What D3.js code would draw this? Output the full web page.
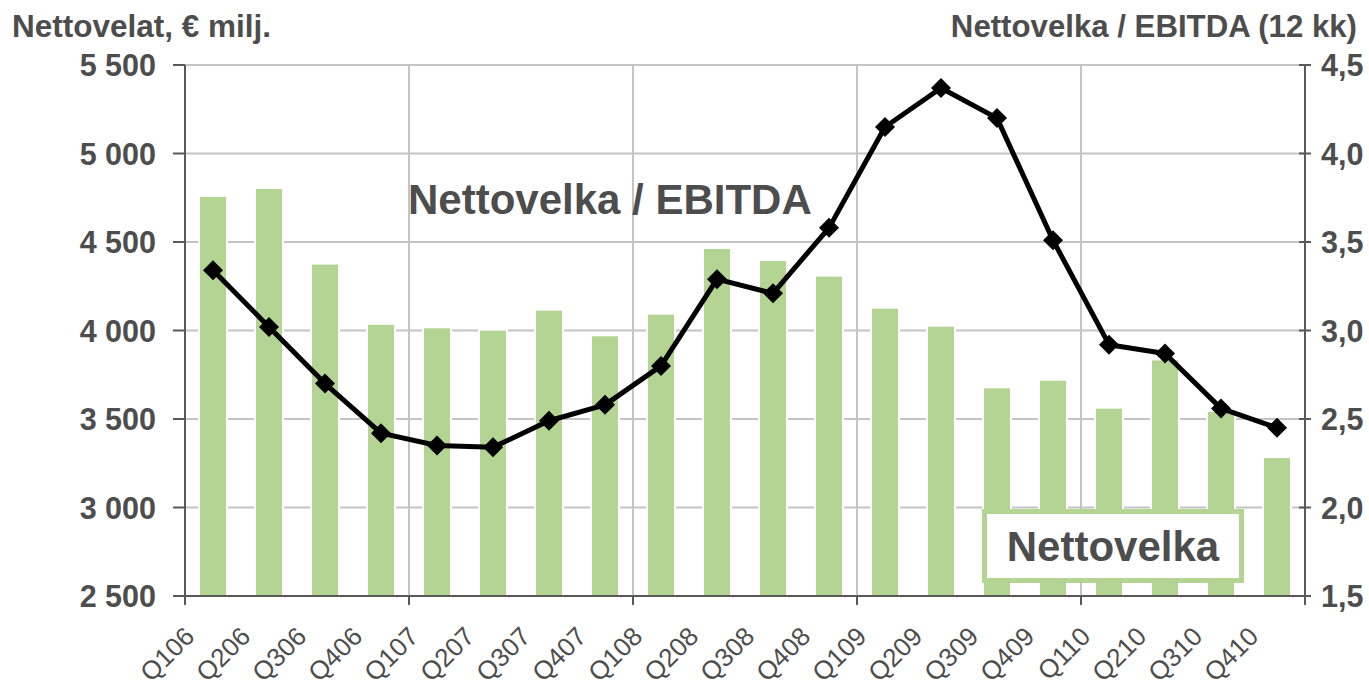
<!DOCTYPE html>
<html>
<head>
<meta charset="utf-8">
<script src="https://cdn.jsdelivr.net/npm/d3@7"></script>
<style>
  body { margin: 0; background: #fff; }
  text { font-family: "Liberation Sans", Arial, sans-serif; fill: #4d4d4d; }
</style>
</head>
<body>
<div id="chart"></div>
<script>
// data
var quarters = ['Q106','Q206','Q306','Q406','Q107','Q207','Q307','Q407','Q108','Q208',
                'Q308','Q408','Q109','Q209','Q309','Q409','Q110','Q210','Q310','Q410'];
var nettovelka = [4760, 4805, 4378, 4038, 4018, 4005, 4118, 3973, 4095, 4466,
                  4398, 4310, 4129, 4027, 3679, 3722, 3564, 3837, 3545, 3285];
var ratio = [3.34, 3.02, 2.70, 2.42, 2.35, 2.34, 2.49, 2.58, 2.80, 3.29,
             3.21, 3.58, 4.15, 4.37, 4.20, 3.51, 2.92, 2.87, 2.56, 2.45];
var leftTicks = [2500, 3000, 3500, 4000, 4500, 5000, 5500];
var rightTicks = [1.5, 2.0, 2.5, 3.0, 3.5, 4.0, 4.5];

var W = 1369, H = 689;
var m = {left: 185, right: 64, top: 65, bottom: 93};
var pw = W - m.left - m.right, ph = H - m.top - m.bottom;

var svg = d3.select('#chart').append('svg')
  .attr('width', W).attr('height', H);

var x = d3.scaleBand().domain(quarters).range([m.left, m.left + pw]);
var yL = d3.scaleLinear().domain([2500, 5500]).range([m.top + ph, m.top]);
var yR = d3.scaleLinear().domain([1.5, 4.5]).range([m.top + ph, m.top]);

// gridlines
svg.append('g')
  .selectAll('line').data(leftTicks.slice(1)).enter().append('line')
  .attr('x1', m.left).attr('x2', m.left + pw)
  .attr('y1', function(d){ return yL(d); }).attr('y2', function(d){ return yL(d); })
  .attr('stroke', '#c4c4c4').attr('stroke-width', 2);

var groups = quarters.filter(function(d, i){ return i % 4 === 0 && i > 0; });
svg.append('g')
  .selectAll('line').data(groups).enter().append('line')
  .attr('x1', function(d){ return x(d); }).attr('x2', function(d){ return x(d); })
  .attr('y1', m.top).attr('y2', m.top + ph)
  .attr('stroke', '#c4c4c4').attr('stroke-width', 2);

// bars
svg.append('g')
  .selectAll('rect').data(nettovelka).enter().append('rect')
  .attr('x', function(d, i){ return x(quarters[i]) + x.bandwidth() / 2 - 14; })
  .attr('width', 28)
  .attr('y', function(d){ return yL(d); })
  .attr('height', function(d){ return yL(2500) - yL(d); })
  .attr('fill', '#b3d492')
  .attr('stroke', '#fff').attr('stroke-width', 2);

// axes
var axisCol = '#595959';
svg.append('line')
  .attr('x1', m.left).attr('x2', m.left).attr('y1', m.top).attr('y2', m.top + ph + 9)
  .attr('stroke', axisCol).attr('stroke-width', 2);
svg.append('line')
  .attr('x1', m.left + pw).attr('x2', m.left + pw).attr('y1', m.top).attr('y2', m.top + ph + 9)
  .attr('stroke', axisCol).attr('stroke-width', 2);
svg.append('line')
  .attr('x1', m.left - 12).attr('x2', m.left + pw + 6).attr('y1', m.top + ph).attr('y2', m.top + ph)
  .attr('stroke', axisCol).attr('stroke-width', 2);

// bottom ticks between quarter groups
svg.append('g')
  .selectAll('line').data(groups).enter().append('line')
  .attr('x1', function(d){ return x(d); }).attr('x2', function(d){ return x(d); })
  .attr('y1', m.top + ph).attr('y2', m.top + ph + 9)
  .attr('stroke', axisCol).attr('stroke-width', 2);

var fmtL = function(d){ return d3.format(',')(d).replace(',', ' '); };
var fmtR = function(d){ return d.toFixed(1).replace('.', ','); };

var gl = svg.append('g');
gl.selectAll('line').data(leftTicks).enter().append('line')
  .attr('x1', m.left - 12).attr('x2', m.left)
  .attr('y1', function(d){ return yL(d); }).attr('y2', function(d){ return yL(d); })
  .attr('stroke', axisCol).attr('stroke-width', 2);
gl.selectAll('text').data(leftTicks).enter().append('text')
  .attr('x', 156).attr('y', function(d){ return yL(d) + 11; })
  .attr('text-anchor', 'end')
  .style('font-size', '30.5px').style('font-weight', 'bold')
  .text(fmtL);

var gr = svg.append('g');
gr.selectAll('line').data(rightTicks).enter().append('line')
  .attr('x1', m.left + pw - 6).attr('x2', m.left + pw + 6)
  .attr('y1', function(d){ return yR(d); }).attr('y2', function(d){ return yR(d); })
  .attr('stroke', axisCol).attr('stroke-width', 2);
gr.selectAll('text').data(rightTicks).enter().append('text')
  .attr('x', 1321).attr('y', function(d){ return yR(d) + 11; })
  .style('font-size', '30.5px').style('font-weight', 'bold')
  .text(fmtR);

// x labels
svg.append('g')
  .selectAll('text').data(quarters).enter().append('text')
  .attr('transform', function(d){
    return 'translate(' + (x(d) + x.bandwidth() / 2 - 17) + ',638) rotate(-45)';
  })
  .attr('text-anchor', 'end')
  .style('font-size', '26px')
  .text(function(d){ return d; });

// line + diamond markers
var line = d3.line()
  .x(function(d, i){ return x(quarters[i]) + x.bandwidth() / 2; })
  .y(function(d){ return yR(d); });

svg.append('path')
  .datum(ratio)
  .attr('d', line)
  .attr('fill', 'none').attr('stroke', '#000').attr('stroke-width', 5)
  .attr('stroke-linejoin', 'round');

svg.append('g')
  .selectAll('path').data(ratio).enter().append('path')
  .attr('transform', function(d, i){
    return 'translate(' + (x(quarters[i]) + x.bandwidth() / 2) + ',' + yR(d) + ')';
  })
  .attr('d', 'M0,-10L10,0L0,10L-10,0Z')
  .attr('fill', '#000');

// titles
svg.append('text').attr('x', 12).attr('y', 37)
  .style('font-size', '31.5px').style('font-weight', 'bold')
  .text('Nettovelat, € milj.');
svg.append('text').attr('x', 1357).attr('y', 37)
  .attr('text-anchor', 'end')
  .style('font-size', '31.2px').style('font-weight', 'bold')
  .text('Nettovelka / EBITDA (12 kk)');

// series labels
svg.append('text').attr('x', 408).attr('y', 214)
  .style('font-size', '42px').style('font-weight', 'bold')
  .text('Nettovelka / EBITDA');

svg.append('rect')
  .attr('x', 984.5).attr('y', 511.5).attr('width', 257).attr('height', 69)
  .attr('fill', '#fff').attr('stroke', '#b3d492').attr('stroke-width', 5);
svg.append('text').attr('x', 1113).attr('y', 561)
  .attr('text-anchor', 'middle')
  .style('font-size', '42px').style('font-weight', 'bold')
  .text('Nettovelka');
</script>
</body>
</html>
